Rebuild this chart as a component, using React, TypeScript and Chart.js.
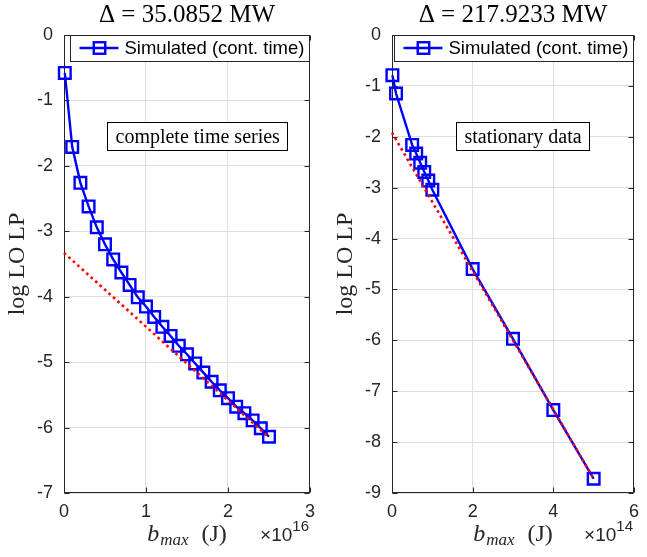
import React, { useEffect, useRef } from 'react';
import { Chart, registerables } from 'chart.js';
Chart.register(...registerables);

// ---------- data ----------
const leftTitle = 'Δ = 35.0852 MW';
const rightTitle = 'Δ = 217.9233 MW';
const legendLabel = 'Simulated (cont. time)';
const yAxisLabel = 'log LO LP';
const leftNote = 'complete time series';
const rightNote = 'stationary data';

const leftBmax = [0.01, 0.1, 0.2, 0.3, 0.4, 0.5, 0.6, 0.7, 0.8, 0.9, 1.0, 1.1, 1.2, 1.3, 1.4, 1.5, 1.6, 1.7, 1.8, 1.9, 2.0, 2.1, 2.2, 2.3, 2.4, 2.5];
const leftLogLolp = [-0.58, -1.71, -2.26, -2.62, -2.94, -3.2, -3.43, -3.63, -3.82, -4.01, -4.15, -4.31, -4.46, -4.6, -4.75, -4.88, -5.02, -5.16, -5.3, -5.43, -5.55, -5.68, -5.78, -5.89, -6.01, -6.14];
const leftFitX = [0, 2.5];
const leftFitY = [-3.33, -6.15];
const leftXTicks = [0, 1, 2, 3];
const leftYTicks = [-7, -6, -5, -4, -3, -2, -1, 0];
const leftExponent = '16';

const rightBmax = [0.01, 0.1, 0.5, 0.6, 0.7, 0.8, 0.9, 1.0, 2, 3, 4, 5];
const rightLogLolp = [-0.79, -1.15, -2.16, -2.33, -2.51, -2.69, -2.86, -3.04, -4.6, -5.97, -7.37, -8.72];
const rightFitX = [0, 5];
const rightFitY = [-1.92, -8.72];
const rightXTicks = [0, 2, 4, 6];
const rightYTicks = [-9, -8, -7, -6, -5, -4, -3, -2, -1, 0];
const rightExponent = '14';

// ---------- styling ----------
const SERIF = '"Liberation Serif", "Times New Roman", serif';
const SANS = '"Liberation Sans", Arial, sans-serif';
const AXIS = '#262626';
const GRID = '#dfdfdf';
const BLUE = '#0000ff';
const RED = '#ff0000';

type Panel = {
  width: number;
  axisWidth: number;
  rightPad: number;
  title: string;
  note: string;
  noteLeft: number;
  xs: number[];
  ys: number[];
  fitX: number[];
  fitY: number[];
  xTicks: number[];
  yTicks: number[];
  exponent: string;
};

const panels: Panel[] = [
  {
    width: 323, axisWidth: 64, rightPad: 10,
    title: leftTitle, note: leftNote, noteLeft: 43,
    xs: leftBmax, ys: leftLogLolp, fitX: leftFitX, fitY: leftFitY,
    xTicks: leftXTicks, yTicks: leftYTicks, exponent: leftExponent,
  },
  {
    width: 324, axisWidth: 69, rightPad: 4,
    title: rightTitle, note: rightNote, noteLeft: 64,
    xs: rightBmax, ys: rightLogLolp, fitX: rightFitX, fitY: rightFitY,
    xTicks: rightXTicks, yTicks: rightYTicks, exponent: rightExponent,
  },
];

function drawSquare(ctx: CanvasRenderingContext2D, x: number, y: number, s: number) {
  ctx.strokeRect(x - s / 2, y - s / 2, s, s);
}

function decorPlugin(p: Panel) {
  return {
    id: 'decor',
    beforeDatasetsDraw(chart: any) {
      const { ctx, chartArea: a, scales } = chart;
      ctx.save();
      ctx.strokeStyle = AXIS;
      ctx.lineWidth = 1;
      const L = Math.round(a.left) + 0.5, R = Math.round(a.right) - 0.5;
      const T = Math.round(a.top) + 0.5, B = Math.round(a.bottom) - 0.5;
      ctx.strokeRect(L, T, R - L, B - T);
      ctx.beginPath();
      p.xTicks.forEach((v) => {
        const px = Math.round(scales.x.getPixelForValue(v)) + 0.5;
        ctx.moveTo(px, B); ctx.lineTo(px, B - 5);
        ctx.moveTo(px, T); ctx.lineTo(px, T + 5);
      });
      p.yTicks.forEach((v) => {
        const py = Math.round(scales.y.getPixelForValue(v)) + 0.5;
        ctx.moveTo(L, py); ctx.lineTo(L + 5, py);
        ctx.moveTo(R, py); ctx.lineTo(R - 5, py);
      });
      ctx.stroke();
      ctx.restore();
    },
    afterDraw(chart: any) {
      const { ctx, chartArea: a } = chart;
      const cx = (a.left + a.right) / 2;
      const cy = (a.top + a.bottom) / 2;
      ctx.save();
      ctx.fillStyle = '#000';
      // title
      ctx.font = `25px ${SERIF}`;
      ctx.textAlign = 'center';
      ctx.textBaseline = 'alphabetic';
      ctx.fillText(p.title, cx, 22);

      // y label
      ctx.save();
      ctx.translate(a.left - 46, cy);
      ctx.rotate(-Math.PI / 2);
      ctx.font = `24px ${SERIF}`;
      ctx.textAlign = 'center';
      ctx.textBaseline = 'middle';
      ctx.fillStyle = '#262626';
      ctx.fillText(yAxisLabel, 0, 0);
      ctx.restore();

      // x label: b_max (J)
      ctx.fillStyle = '#262626';
      ctx.textAlign = 'left';
      ctx.textBaseline = 'alphabetic';
      const bigI = `italic 24px ${SERIF}`;
      const subI = `italic 17px ${SERIF}`;
      const big = `24px ${SERIF}`;
      ctx.font = bigI; const wb = ctx.measureText('b').width;
      ctx.font = subI; const wm = ctx.measureText('max').width;
      ctx.font = big; const wj = ctx.measureText('  (J)').width;
      let x0 = cx - (wb + wm + 2 + wj) / 2;
      const base = 541;
      ctx.font = bigI; ctx.fillText('b', x0, base); x0 += wb + 1;
      ctx.font = subI; ctx.fillText('max', x0, base + 4); x0 += wm + 1;
      ctx.font = big; ctx.fillText('  (J)', x0, base);

      // exponent ×10^n
      ctx.font = `15px ${SANS}`;
      const we = ctx.measureText(p.exponent).width;
      ctx.fillText(p.exponent, a.right - we - 1, base - 10);
      ctx.font = `19px ${SANS}`;
      const wt = ctx.measureText('×10').width;
      ctx.fillText('×10', a.right - we - wt - 1, base);

      // legend box
      const lw = 239.5, lh = 26;
      const lx = a.right - lw, ly = a.top;
      ctx.fillStyle = '#fff';
      ctx.fillRect(lx, ly, lw, lh);
      ctx.strokeStyle = AXIS;
      ctx.lineWidth = 1;
      ctx.strokeRect(Math.round(lx) + 0.5, Math.round(ly) + 0.5, Math.round(lw) - 1, lh);
      ctx.strokeStyle = BLUE;
      ctx.lineWidth = 2.4;
      ctx.beginPath();
      ctx.moveTo(lx + 9, ly + 13);
      ctx.lineTo(lx + 48, ly + 13);
      ctx.stroke();
      drawSquare(ctx, lx + 29, ly + 13, 11.5);
      ctx.fillStyle = '#000';
      ctx.font = `18.5px ${SANS}`;
      ctx.textBaseline = 'middle';
      ctx.fillText(legendLabel, lx + 54, ly + 13.5);

      // note box
      ctx.font = `20px ${SERIF}`;
      const wn = ctx.measureText(p.note).width;
      const bw = wn + 16, bh = 28;
      const bx = Math.round(a.left + p.noteLeft) + 0.5, by = Math.round(a.top + 87) + 0.5;
      ctx.fillStyle = '#fff';
      ctx.fillRect(bx, by, bw, bh);
      ctx.strokeStyle = '#000';
      ctx.lineWidth = 1;
      ctx.strokeRect(bx, by, Math.round(bw), bh);
      ctx.fillStyle = '#000';
      ctx.textAlign = 'center';
      ctx.fillText(p.note, bx + bw / 2, by + bh / 2 + 1);
      ctx.restore();
    },
  };
}

function makeChart(canvas: HTMLCanvasElement, p: Panel) {
  const tickFont = { family: SANS, size: 18 };
  return new Chart(canvas, {
    type: 'scatter',
    data: {
      datasets: [
        {
          label: 'fit',
          data: p.fitX.map((x, i) => ({ x, y: p.fitY[i] })),
          showLine: true,
          borderColor: RED,
          borderWidth: 2.6,
          borderDash: [2.6, 3.4],
          pointRadius: 0,
          order: 0,
          clip: false as any,
        },
        {
          label: legendLabel,
          data: p.xs.map((x, i) => ({ x, y: p.ys[i] })),
          showLine: true,
          borderColor: BLUE,
          borderWidth: 2.4,
          pointStyle: 'rect',
          pointRadius: 8.2,
          pointBorderWidth: 2.4,
          pointBackgroundColor: 'rgba(0,0,0,0)',
          pointBorderColor: BLUE,
          order: 1,
          clip: false as any,
        },
      ],
    },
    options: {
      responsive: false,
      animation: false,
      devicePixelRatio: 1,
      layout: { padding: { top: 35, right: p.rightPad, left: 0, bottom: 0 } },
      plugins: { legend: { display: false }, tooltip: { enabled: false }, title: { display: false } },
      events: [],
      scales: {
        x: {
          type: 'linear',
          min: p.xTicks[0],
          max: p.xTicks[p.xTicks.length - 1],
          afterBuildTicks: (s: any) => { s.ticks = p.xTicks.map((v) => ({ value: v })); },
          afterFit: (s: any) => { s.height = 64; },
          ticks: { font: tickFont, color: AXIS, padding: 8, maxRotation: 0, autoSkip: false, callback: (v: any) => String(v) },
          grid: { color: GRID, drawTicks: false, lineWidth: 1 },
          border: { display: false },
        },
        y: {
          type: 'linear',
          min: p.yTicks[0],
          max: p.yTicks[p.yTicks.length - 1],
          afterBuildTicks: (s: any) => { s.ticks = p.yTicks.map((v) => ({ value: v })); },
          afterFit: (s: any) => { s.width = p.axisWidth; },
          ticks: { font: tickFont, color: AXIS, padding: 11, autoSkip: false, callback: (v: any) => String(v) },
          grid: { color: GRID, drawTicks: false, lineWidth: 1 },
          border: { display: false },
        },
      },
    } as any,
    plugins: [decorPlugin(p)],
  });
}

function PanelChart({ p }: { p: Panel }) {
  const ref = useRef<HTMLCanvasElement | null>(null);
  useEffect(() => {
    if (!ref.current) return;
    const c = makeChart(ref.current, p);
    return () => c.destroy();
  }, [p]);
  return (
    <canvas
      ref={ref}
      width={p.width}
      height={557}
      style={{ display: 'block', width: p.width, height: 557 }}
    />
  );
}

export default function App() {
  return (
    <div style={{ position: 'absolute', left: 0, top: 0, width: 647, height: 557, display: 'flex', background: '#fff' }}>
      {panels.map((p, i) => (
        <PanelChart key={i} p={p} />
      ))}
    </div>
  );
}
